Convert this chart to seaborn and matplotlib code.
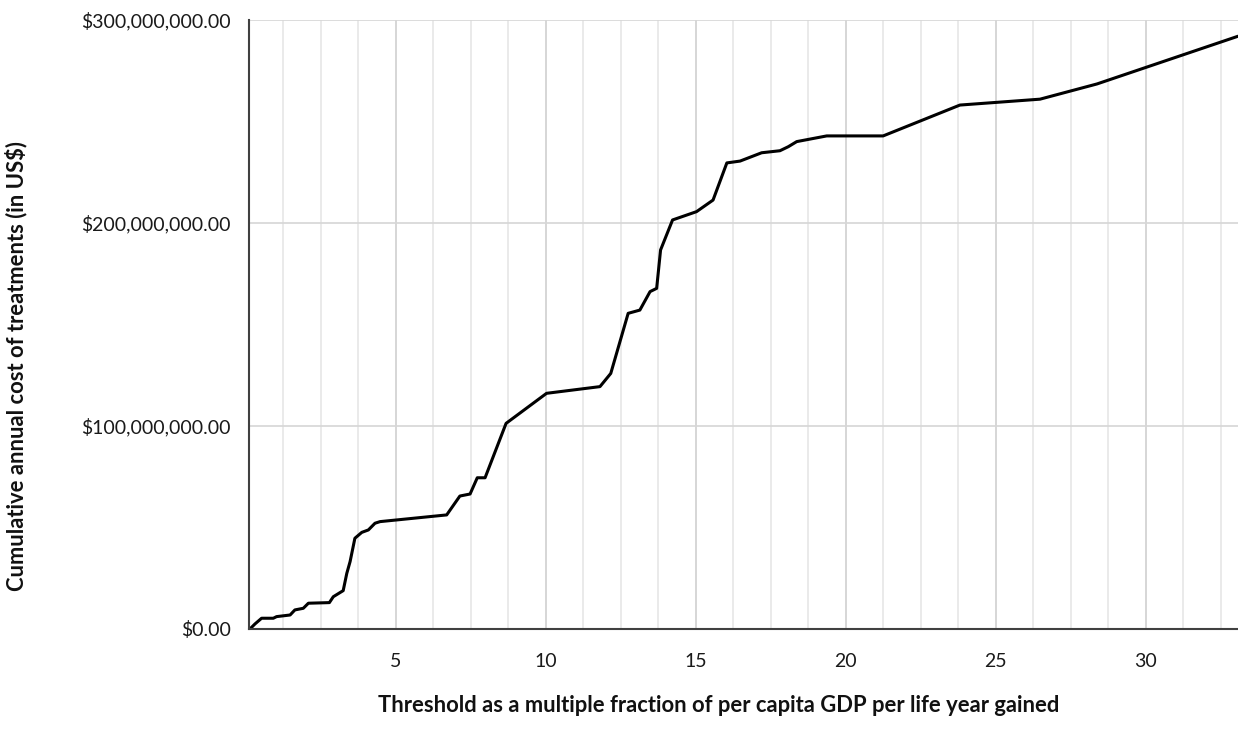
import matplotlib
matplotlib.use("Agg")
import matplotlib.pyplot as plt
import matplotlib.ticker as mticker
import pandas as pd
import seaborn as sns

# threshold (multiple of per capita GDP per life year gained)
threshold = [0.13, 0.30, 0.52, 0.91, 1.02, 1.47, 1.63, 1.91, 2.08, 2.78,
             2.91, 3.24, 3.36, 3.47, 3.63, 3.86, 4.08, 4.30, 4.47, 6.69,
             7.13, 7.47, 7.71, 7.97, 8.67, 10.02, 11.80, 12.16, 12.74, 13.13,
             13.47, 13.69, 13.82, 14.22, 15.02, 15.57, 16.03, 16.47, 17.19, 17.80,
             18.08, 18.36, 19.36, 21.24, 23.80, 26.47, 28.37, 33.07]

# cumulative annual cost, millions of US$
cost_musd = [0.0, 2.5, 5.3, 5.3, 6.1, 6.9, 9.4, 10.2, 12.7, 13.0,
             15.9, 18.9, 27.4, 33.2, 44.7, 47.6, 48.8, 52.1, 52.9, 56.2,
             65.5, 66.5, 74.5, 74.5, 101.3, 116.1, 119.4, 125.9, 155.5, 157.1,
             166.2, 167.8, 186.7, 201.5, 205.6, 211.3, 229.6, 230.5, 234.6, 235.6,
             237.6, 240.1, 242.9, 242.9, 258.1, 261.0, 268.5, 292.0]

x_ticks = [5, 10, 15, 20, 25, 30]
y_ticks = [0, 100e6, 200e6, 300e6]

df = pd.DataFrame({"threshold": threshold,
                   "cost": [c * 1e6 for c in cost_musd]})

sns.set_theme(style="white")
plt.rcParams["font.family"] = ["Lato", "DejaVu Sans"]

fig = plt.figure(figsize=(12.38, 7.46), dpi=100)
ax = fig.add_axes([249 / 1238, 117 / 746, 989 / 1238, 609 / 746])

sns.lineplot(data=df, x="threshold", y="cost", ax=ax, color="black",
             linewidth=2.2, sort=False, estimator=None)

ax.set_xlim(0.1, 33.07)
ax.set_ylim(0, 300e6)
ax.set_xticks(x_ticks)
ax.xaxis.set_minor_locator(mticker.MultipleLocator(1.25))
ax.set_yticks(y_ticks)
ax.yaxis.set_minor_locator(mticker.MultipleLocator(100e6 / 3))
ax.yaxis.set_major_formatter(mticker.FuncFormatter(lambda v, p: f"${v:,.2f}"))

# gridlines
ax.grid(which="major", axis="x", color="#cfcfcf", linewidth=1.2)
ax.grid(which="minor", axis="x", color="#e6e6e6", linewidth=1.2)
ax.grid(which="major", axis="y", color="#d6d6d6", linewidth=1.2)
ax.set_axisbelow(True)

for side in ["top", "right"]:
    ax.spines[side].set_visible(False)
for side in ["left", "bottom"]:
    ax.spines[side].set_color("#404040")
    ax.spines[side].set_linewidth(1.5)

ax.tick_params(which="major", direction="inout", length=8, width=1.2,
               color="#303030", labelsize=14, labelcolor="#1a1a1a")
ax.tick_params(which="minor", direction="inout", length=6, width=1.2,
               color="#303030")
ax.tick_params(axis="x", which="major", pad=13)
ax.tick_params(axis="y", which="major", pad=9)

ax.set_xlabel("Threshold as a multiple fraction of per capita GDP per life year gained",
              fontsize=15.8, fontweight="bold", color="#111111")
ax.set_ylabel("Cumulative annual cost of treatments (in US$)",
              fontsize=15.8, fontweight="bold", color="#111111")
ax.xaxis.set_label_coords(0.475, -0.108)
ax.yaxis.set_label_coords(-0.2245, 0.432)

fig.savefig("out.png", dpi=100)
